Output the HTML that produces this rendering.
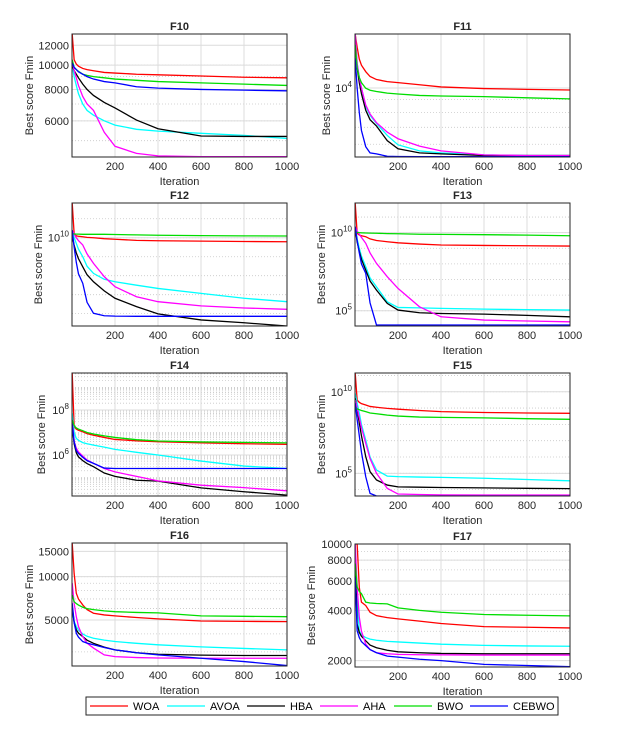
<!DOCTYPE html>
<html><head><meta charset="utf-8"><style>
body{margin:0;background:#fff;}
svg{display:block;font-family:"Liberation Sans",Arial,sans-serif;}
</style></head><body>
<svg id="chart" width="621" height="740" viewBox="0 0 621 740"></svg>
<script>
const ITER = [1,10,20,30,50,70,100,150,200,300,400,600,800,1000];
const SERIES_NAMES = ["WOA","AVOA","HBA","AHA","BWO","CEBWO"];
const SERIES_COLORS = ["#ff0000","#00ffff","#000000","#ff00ff","#00dd00","#0000ff"];

// F10 (values)
const f10WOA  = [13300,10500,10100,9900,9700,9600,9500,9350,9300,9200,9150,9050,8950,8900];
const f10AVOA = [10000,9000,8300,7700,7000,6600,6320,6000,5770,5550,5460,5350,5250,5100];
const f10HBA  = [10000,9500,9200,8900,8400,8000,7570,7100,6750,6040,5580,5220,5200,5200];
const f10AHA  = [10500,9500,8900,8300,7500,7000,6600,5400,4750,4450,4350,4320,4320,4320];
const f10BWO  = [10500,9800,9600,9450,9200,9100,9000,8900,8800,8700,8600,8500,8400,8300];
const f10CEBWO= [10200,9800,9600,9400,9200,9000,8800,8600,8500,8200,8100,8000,7950,7900];
const f10Ticks = [12000,10000,8000,6000];
// F11 (values)
const f11WOA  = [16300,14500,13000,12300,11600,11100,10800,10600,10500,10300,10100,9950,9880,9820];
const f11AVOA = [16300,12500,11000,10000,8450,7800,7250,6500,5970,5650,5550,5450,5420,5420];
const f11HBA  = [15500,12000,10500,9500,8170,7500,7080,6200,5760,5550,5500,5420,5420,5420];
const f11AHA  = [16300,12500,11000,10000,8570,7900,7300,6700,6310,5900,5650,5450,5420,5420];
const f11BWO  = [14800,12000,11000,10500,9980,9800,9690,9550,9470,9350,9300,9250,9150,9060];
const f11CEBWO= [13100,10000,8000,6800,5870,5550,5500,5380,5370,5360,5360,5360,5360,5360];
const f11Ticks = [1e4];
// F12 (log10 of values)
const f12WOA  = [11.83,10.2,10.1,10.08,10.05,10.02,10.0,9.95,9.92,9.86,9.84,9.82,9.80,9.79];
const f12AVOA = [10.32,10.0,9.7,9.4,9.0,8.5,8.12,7.81,7.68,7.5,7.33,7.07,6.81,6.63];
const f12HBA  = [10.1,9.6,9.2,8.9,8.47,8.05,7.68,7.2,6.81,6.37,5.99,5.67,5.52,5.35];
const f12AHA  = [10.4,10.2,10.0,9.85,9.62,9.15,8.65,7.95,7.42,6.89,6.63,6.41,6.3,6.23];
const f12BWO  = [10.2,10.2,10.19,10.19,10.18,10.18,10.18,10.18,10.17,10.15,10.13,10.11,10.1,10.09];
const f12CEBWO= [10.4,9.5,8.7,8.1,7.6,6.6,6.02,5.89,5.87,5.86,5.86,5.86,5.86,5.86];
const f12Ticks = [10];
// F13 (log10)
const f13WOA  = [11.9,9.96,9.85,9.8,9.74,9.6,9.5,9.42,9.35,9.27,9.21,9.18,9.16,9.14];
const f13AVOA = [10.38,9.6,9.0,8.5,7.82,7.1,6.53,5.57,5.21,5.18,5.15,5.1,5.07,5.04];
const f13HBA  = [10.27,9.4,8.8,8.3,7.6,6.9,6.32,5.47,5.04,4.87,4.82,4.78,4.7,4.61];
const f13AHA  = [10.38,10.1,9.9,9.7,9.32,8.7,8.03,7.18,6.43,5.25,4.61,4.40,4.34,4.29];
const f13BWO  = [10.06,10.02,10.0,9.99,9.98,9.97,9.96,9.94,9.93,9.9,9.89,9.87,9.84,9.80];
const f13CEBWO= [10.38,9.5,8.7,8.0,7.39,5.5,4.08,4.08,4.08,4.08,4.08,4.08,4.08,4.08];
const f13Ticks = [10,5];
// F14 (log10)
const f14WOA  = [9.64,7.25,7.15,7.1,7.03,6.95,6.88,6.78,6.69,6.63,6.59,6.54,6.5,6.47];
const f14AVOA = [7.85,7.0,6.74,6.65,6.55,6.5,6.44,6.35,6.25,6.12,6.0,5.73,5.51,5.40];
const f14HBA  = [7.25,6.5,6.1,5.92,5.75,5.62,5.48,5.2,5.05,4.88,4.84,4.54,4.37,4.22];
const f14AHA  = [7.55,6.6,6.3,6.14,5.95,5.78,5.63,5.4,5.25,5.05,4.85,4.66,4.55,4.41];
const f14BWO  = [7.55,7.3,7.2,7.15,7.08,7.0,6.93,6.85,6.78,6.68,6.62,6.58,6.56,6.54];
const f14CEBWO= [7.40,6.6,6.2,6.07,5.9,5.75,5.63,5.42,5.40,5.40,5.40,5.40,5.40,5.40];
const f14Ticks = [8,6];
// F15 (log10)
const f15WOA  = [11.15,9.49,9.35,9.27,9.19,9.1,9.05,8.98,8.93,8.85,8.78,8.73,8.7,8.68];
const f15AVOA = [9.9,9.3,8.7,8.0,7.04,6.0,5.20,4.83,4.80,4.77,4.75,4.7,4.62,4.54];
const f15HBA  = [9.6,8.9,8.1,7.3,6.02,5.1,4.59,4.28,4.17,4.15,4.13,4.11,4.08,4.06];
const f15AHA  = [9.49,9.0,8.4,7.8,6.84,5.9,5.0,4.08,3.73,3.7,3.68,3.67,3.67,3.67];
const f15BWO  = [9.08,8.95,8.9,8.85,8.78,8.7,8.65,8.57,8.51,8.45,8.43,8.4,8.35,8.31];
const f15CEBWO= [9.3,8.3,7.3,6.3,4.79,3.77,3.61,3.61,3.61,3.61,3.61,3.61,3.61,3.61];
const f15Ticks = [10,5];
// F16 (values)
const f16WOA  = [17100,10500,7670,7000,6360,5900,5570,5420,5340,5200,5090,4920,4890,4870];
const f16AVOA = [5570,4900,4500,4250,4000,3850,3730,3620,3540,3440,3360,3250,3170,3100];
const f16HBA  = [6200,4800,4270,4050,3830,3620,3440,3240,3100,2960,2890,2850,2830,2830];
const f16AHA  = [9000,6500,5270,4500,3830,3450,3190,2860,2780,2740,2720,2710,2710,2710];
const f16BWO  = [7460,6700,6500,6350,6130,6000,5900,5780,5710,5640,5600,5340,5300,5270];
const f16CEBWO= [6540,4800,4040,3800,3540,3450,3360,3220,3100,2960,2860,2710,2570,2410];
const f16Ticks = [15000,10000,5000];
// F17 (values)
const f17WOA  = [10000,10000,5500,4480,4280,3900,3720,3620,3560,3450,3340,3200,3170,3140];
const f17AVOA = [10000,4500,3020,2850,2750,2690,2650,2610,2590,2550,2510,2470,2450,2440];
const f17HBA  = [9000,3310,2950,2800,2630,2480,2390,2310,2260,2230,2210,2200,2200,2200];
const f17AHA  = [10000,5500,3640,3000,2510,2330,2230,2200,2180,2170,2165,2160,2160,2160];
const f17BWO  = [7640,5520,5200,5040,4480,4430,4400,4380,4140,4000,3900,3780,3740,3710];
const f17CEBWO= [6340,3020,2750,2600,2460,2330,2230,2130,2100,2040,2000,1900,1870,1840];
const f17Ticks = [10000,8000,6000,4000,2000];

const X_TICKS = [200,400,600,800,1000];

const panels = [
 {t:"F10",x:72,y:34,lo:3.634,hi:4.124,logData:false,minor:"k",ticks:f10Ticks,exp:false,yo:39,s:[f10WOA,f10AVOA,f10HBA,f10AHA,f10BWO,f10CEBWO]},
 {t:"F11",x:355,y:34,lo:3.728,hi:4.213,logData:false,minor:"k",ticks:f11Ticks,exp:true,yo:25,s:[f11WOA,f11AVOA,f11HBA,f11AHA,f11BWO,f11CEBWO]},
 {t:"F12",x:72,y:203,lo:5.35,hi:11.83,logData:true,minor:"d",ticks:f12Ticks,exp:true,yo:30,s:[f12WOA,f12AVOA,f12HBA,f12AHA,f12BWO,f12CEBWO]},
 {t:"F13",x:355,y:203,lo:4.02,hi:11.9,logData:true,minor:"d",ticks:f13Ticks,exp:true,yo:30,s:[f13WOA,f13AVOA,f13HBA,f13AHA,f13BWO,f13CEBWO]},
 {t:"F14",x:72,y:373,lo:4.18,hi:9.64,logData:true,minor:"k",ticks:f14Ticks,exp:true,yo:27,s:[f14WOA,f14AVOA,f14HBA,f14AHA,f14BWO,f14CEBWO]},
 {t:"F15",x:355,y:373,lo:3.61,hi:11.15,logData:true,minor:"d",ticks:f15Ticks,exp:true,yo:30,s:[f15WOA,f15AVOA,f15HBA,f15AHA,f15BWO,f15CEBWO]},
 {t:"F16",x:72,y:543,lo:3.379,hi:4.234,logData:false,minor:"k",ticks:f16Ticks,exp:false,yo:39,s:[f16WOA,f16AVOA,f16HBA,f16AHA,f16BWO,f16CEBWO]},
 {t:"F17",x:355,y:544,lo:3.263,hi:4.0,logData:false,minor:"k",ticks:f17Ticks,exp:false,yo:40,s:[f17WOA,f17AVOA,f17HBA,f17AHA,f17BWO,f17CEBWO]}
];
const W = 215, H = 123;
const NS = "http://www.w3.org/2000/svg";
const svg = document.getElementById("chart");
function mk(tag, attrs, parent){const e=document.createElementNS(NS,tag);for(const k in attrs)e.setAttribute(k,attrs[k]);(parent||svg).appendChild(e);return e;}

panels.forEach((p,pi)=>{
  const g = mk("g",{});
  
  
  const xs = it => p.x + it/1000*W;
  const yl = lv => p.y + (p.hi - lv)/(p.hi - p.lo)*H;
  const lg = v => p.logData ? v : Math.log10(v);
  mk("rect",{x:p.x,y:p.y,width:W,height:H,fill:"#fff"},g);
  const minors=[];
  if(p.minor==="d"){for(let d=Math.ceil(p.lo);d<=p.hi;d++)minors.push(d);}
  else{for(let d=Math.floor(p.lo);d<=Math.ceil(p.hi);d++)for(let k=1;k<=9;k++){const l=d+Math.log10(k);if(l>p.lo&&l<p.hi)minors.push(l);}}
  minors.forEach(l=>{const yy=yl(l);const ln=mk("line",{x1:p.x,x2:p.x+W,y1:yy,y2:yy,stroke:"#c8c8c8","stroke-width":0.8,"stroke-dasharray":"1,2"},g);
    });
  X_TICKS.slice(0,4).forEach(t=>{const ln=mk("line",{x1:xs(t),x2:xs(t),y1:p.y,y2:p.y+H,stroke:"#dcdcdc","stroke-width":1},g);
    });
  p.ticks.forEach(t=>{const l=p.exp?(t===1e4?4:t):Math.log10(t);const yy=yl(l);
    const ln=mk("line",{x1:p.x,x2:p.x+W,y1:yy,y2:yy,stroke:"#dcdcdc","stroke-width":1},g);
    
    const tk=mk("text",{x:p.x-3,y:yy+4,"text-anchor":"end","font-size":11,fill:"#262626"},g);
    
    if(p.exp){const ev=(t===1e4)?4:t;tk.appendChild(document.createTextNode("10"));const sp=mk("tspan",{dy:-5,"font-size":8},tk);sp.textContent=String(ev);}
    else tk.textContent=String(t);
  });
  const cp = mk("clipPath",{id:"cp"+pi},g);mk("rect",{x:p.x,y:p.y,width:W,height:H},cp);
  p.s.forEach((arr,si)=>{
    const d = arr.map((v,i)=>(i?"L":"M")+xs(ITER[i]).toFixed(2)+","+yl(lg(v)).toFixed(2)).join("");
    const path = mk("path",{d:d,fill:"none",stroke:SERIES_COLORS[si],"stroke-width":1.3,"clip-path":"url(#cp"+pi+")"},g);
    
    
  });
  const fr=mk("rect",{x:p.x,y:p.y,width:W,height:H,fill:"none",stroke:"#262626","stroke-width":1},g);
  
  X_TICKS.forEach(t=>{
    const tl=mk("text",{x:xs(t),y:p.y+H+13,"text-anchor":"middle","font-size":11,fill:"#262626"},g);
    tl.textContent=String(t);
    
  });
  const xt=mk("text",{x:p.x+W/2,y:p.y+H+28,"text-anchor":"middle","font-size":11,fill:"#262626"},g);
  xt.textContent="Iteration";
  
  const yx=p.x-p.yo, yy=p.y+H/2;
  const yt=mk("text",{x:yx,y:yy,"text-anchor":"middle","font-size":11,fill:"#262626",transform:"rotate(-90 "+yx+" "+yy+")"},g);
  yt.textContent="Best score Fmin";
  
  const tt=mk("text",{x:p.x+W/2,y:p.y-4,"text-anchor":"middle","font-size":11,"font-weight":"bold",fill:"#262626"},g);
  tt.textContent=p.t;
  
});

const LEG_LINE_X = [90,167,247,320,394,470];
const lgG = mk("g",{});


const lb=mk("rect",{x:86,y:697,width:472,height:18,fill:"#fff",stroke:"#262626","stroke-width":1},lgG);

SERIES_NAMES.forEach((n,i)=>{
  const e=mk("g",{},lgG);
  
  
  mk("line",{x1:LEG_LINE_X[i],x2:LEG_LINE_X[i]+38,y1:706,y2:706,stroke:SERIES_COLORS[i],"stroke-width":1.3},e);
  const t=mk("text",{x:LEG_LINE_X[i]+43,y:710,"font-size":11,fill:"#000"},e);
  t.textContent=n;
});
</script>
</body></html>
